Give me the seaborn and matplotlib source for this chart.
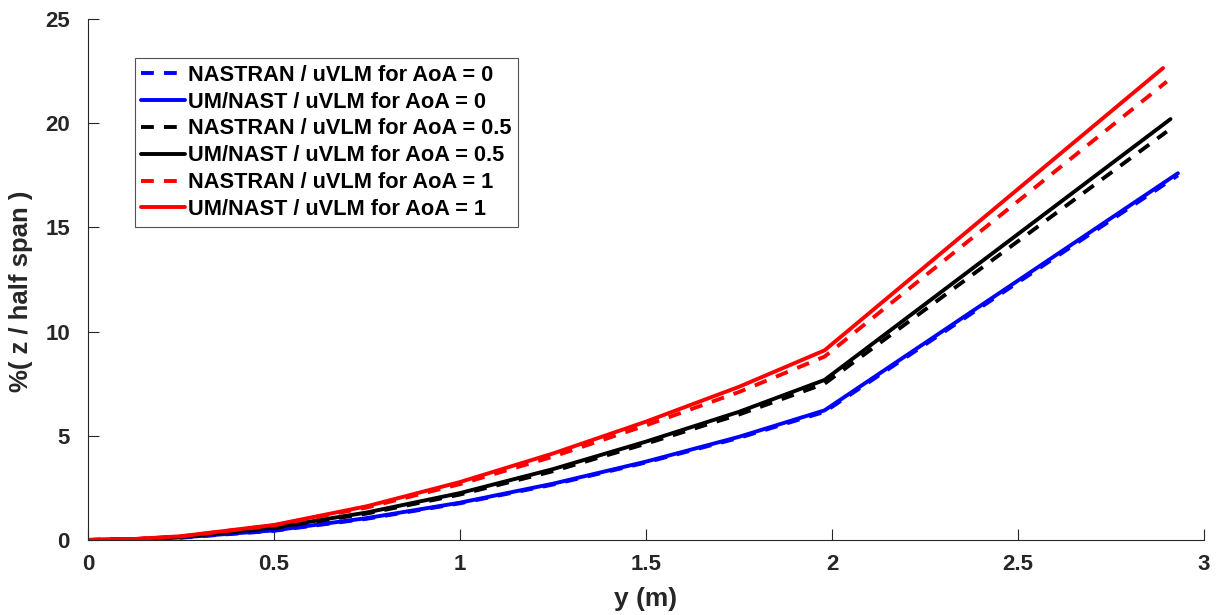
import matplotlib
matplotlib.use("Agg")
import matplotlib.pyplot as plt
import seaborn as sns

sns.set_theme(style="ticks")
plt.rcParams["font.family"] = ["Liberation Sans", "DejaVu Sans"]

# spanwise stations (m) up to the kink, then the tip of each curve
y_inner = [0, 0.13, 0.25, 0.5, 0.75, 1.0, 1.25, 1.5, 1.75, 1.98]

tip_nastran_0 = 2.93
tip_umnast_0 = 2.93
tip_nastran_05 = 2.90
tip_umnast_05 = 2.91
tip_nastran_1 = 2.90
tip_umnast_1 = 2.89

# %(z / half span)
nastran_0 = [0, 0.03, 0.11, 0.44, 1.02, 1.76, 2.66, 3.72, 4.90, 6.15, 17.5]
umnast_0 = [0, 0.03, 0.12, 0.46, 1.05, 1.79, 2.70, 3.76, 4.95, 6.22, 17.6]
nastran_05 = [0, 0.04, 0.14, 0.57, 1.27, 2.18, 3.30, 4.62, 6.02, 7.50, 19.6]
umnast_05 = [0, 0.04, 0.15, 0.60, 1.32, 2.25, 3.40, 4.72, 6.15, 7.68, 20.2]
nastran_1 = [0, 0.05, 0.17, 0.70, 1.56, 2.68, 4.00, 5.50, 7.10, 8.80, 22.0]
umnast_1 = [0, 0.05, 0.18, 0.72, 1.62, 2.78, 4.15, 5.68, 7.35, 9.10, 22.65]

series = [
    ("NASTRAN / uVLM for AoA = 0", tip_nastran_0, nastran_0, "#0000ff", True),
    ("UM/NAST / uVLM for AoA = 0", tip_umnast_0, umnast_0, "#0000ff", False),
    ("NASTRAN / uVLM for AoA = 0.5", tip_nastran_05, nastran_05, "#000000", True),
    ("UM/NAST / uVLM for AoA = 0.5", tip_umnast_05, umnast_05, "#000000", False),
    ("NASTRAN / uVLM for AoA = 1", tip_nastran_1, nastran_1, "#ff0000", True),
    ("UM/NAST / uVLM for AoA = 1", tip_umnast_1, umnast_1, "#ff0000", False),
]

fig = plt.figure(figsize=(12.18, 6.15), dpi=100)
ax = fig.add_axes([0.0722, 0.122, 0.9163, 0.847])

for label, tip, vals, color, dashed in series:
    xs = y_inner + [tip]
    sns.lineplot(x=xs, y=vals, ax=ax, color=color, lw=2.8, label=label,
                 linestyle=(0, (3.3, 2.6)) if dashed else "-", sort=False)

ax.set_xlim(0, 3)
ax.set_ylim(0, 25)
ax.set_xticks([0, 0.5, 1, 1.5, 2, 2.5, 3])
ax.set_xticklabels(["0", "0.5", "1", "1.5", "2", "2.5", "3"])
ax.set_yticks([0, 5, 10, 15, 20, 25])

dark = "#262626"
for side in ["top", "right"]:
    ax.spines[side].set_visible(False)
for side in ["left", "bottom"]:
    ax.spines[side].set_color(dark)
    ax.spines[side].set_linewidth(0.8)
ax.tick_params(direction="in", length=8, width=0.8, color=dark,
               labelsize=16, labelcolor=dark)
ax.tick_params(axis="y", pad=13)
ax.tick_params(axis="x", pad=10)
for t in ax.get_xticklabels() + ax.get_yticklabels():
    t.set_fontweight("bold")

ax.set_xlabel("y (m)", fontsize=19, fontweight="bold", color=dark)
ax.set_ylabel("%( z / half span )", fontsize=18.5, fontweight="bold", color=dark)
ax.xaxis.set_label_coords(0.5, -0.09)
ax.yaxis.set_label_coords(-0.049, 0.478)

leg = ax.legend(loc="upper left", bbox_to_anchor=(0.042, 0.925),
                prop={"weight": "bold", "size": 15.7}, frameon=True, fancybox=False,
                handlelength=2.0, handletextpad=0.15, labelspacing=0.27,
                borderpad=0.3, borderaxespad=0, labelcolor="black")
leg.get_frame().set_edgecolor(dark)
leg.get_frame().set_linewidth(0.8)

fig.savefig("out.png", dpi=100)
